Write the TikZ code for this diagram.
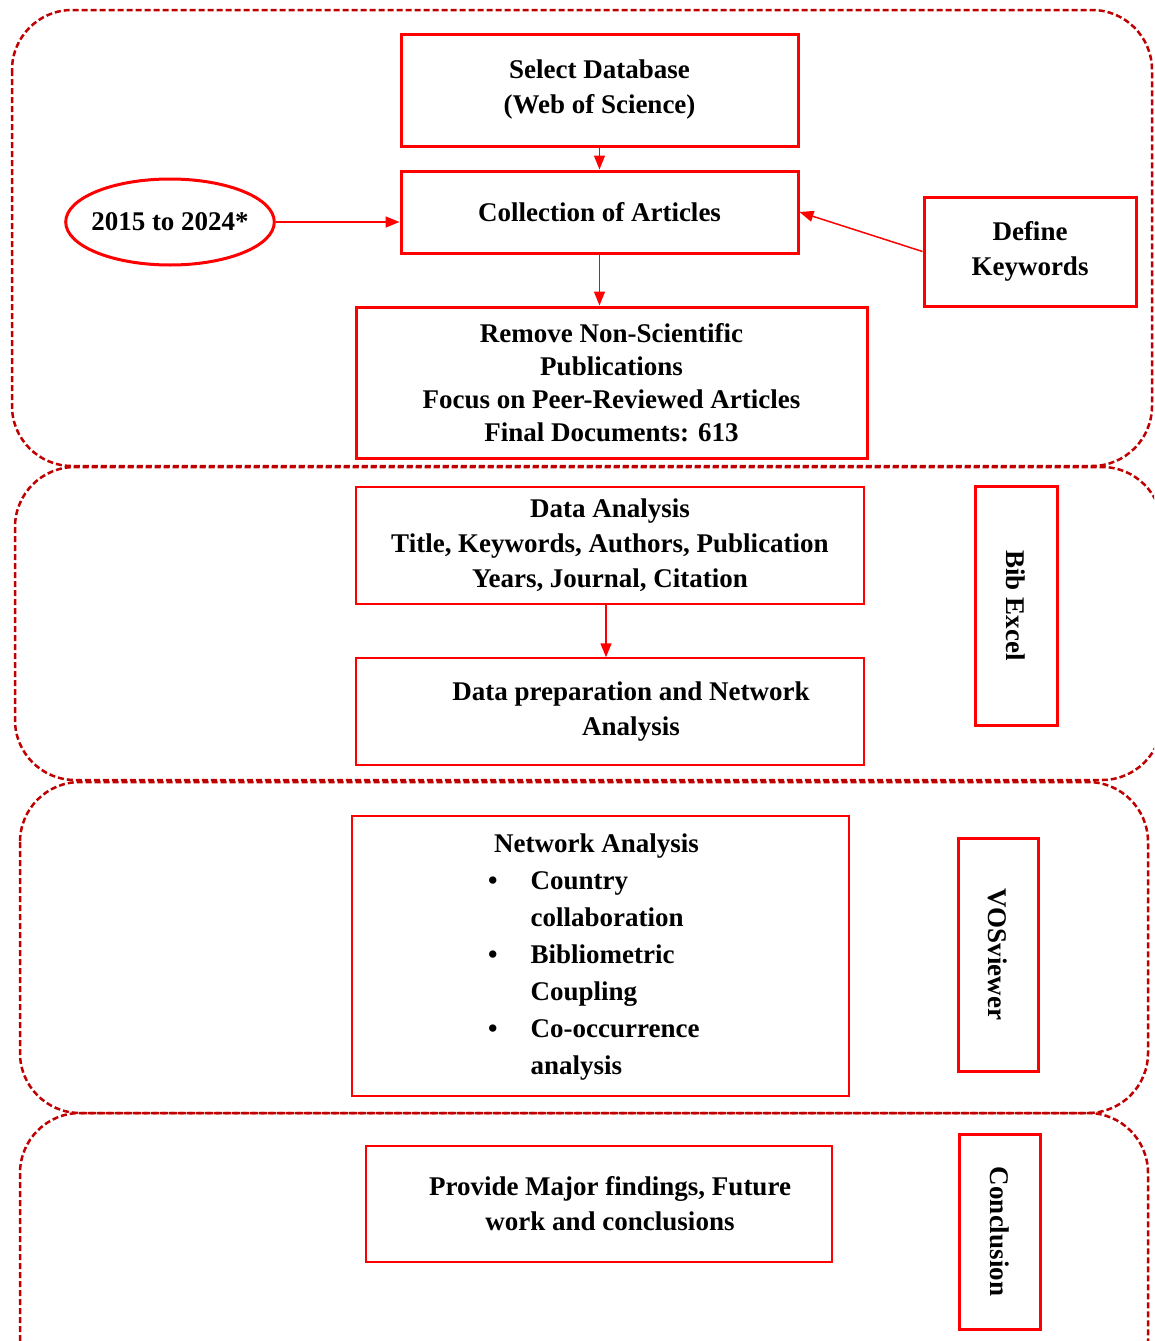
\documentclass[tikz,border=0pt]{standalone}
\usepackage{fontspec}
\setmainfont{Liberation Serif}
\usepackage{xcolor}
\usepackage{tikz}
\usetikzlibrary{arrows.meta,positioning,shapes.geometric,fit,calc}
\definecolor{boxred}{HTML}{FF0000}
\definecolor{dashred}{HTML}{C00000}

\begin{document}
\begin{tikzpicture}[
    x=1pt, y=-1pt,
    every node/.style={font=\bfseries\fontsize{27}{35}\selectfont, text=black},
    thickbox/.style={draw=boxred, line width=3pt, align=center, inner sep=2pt},
    thinbox/.style={draw=boxred, line width=1.5pt, align=center, inner sep=2pt},
    panel/.style={draw=dashred, line width=2.5pt, dash pattern=on 6pt off 3pt, rounded corners=60pt},
    arrow/.style={-{Triangle[length=14pt, width=11pt]}, line width=1.5pt, draw=boxred}
]
\useasboundingbox (0,0) rectangle (1154,1341);
\clip (0,0) rectangle (1154,1341);

% dashed phase panels
\draw[panel] (12,10) rectangle (1152,466);
\draw[panel] (15,467) rectangle (1162,780);
\draw[panel] (20,782) rectangle (1148,1113);
\draw[panel] (20,1113) rectangle (1148,1400);

% search and selection
\node[thickbox, minimum width=397, minimum height=112] (sel) at (599.5,90) {Select Database\\(Web of Science)};
\node[thickbox, minimum width=397, minimum height=82] (coll) at (599.5,212) {Collection of Articles};
\node[thickbox, ellipse, inner xsep=-5pt, minimum width=206, minimum height=86] (yrs) at (170,222) {2015 to 2024*};
\node[thickbox, minimum width=212, minimum height=109] (kw) at (1030,251.5) {Define\\Keywords};
\node[thickbox, minimum width=511, minimum height=151, font=\bfseries\fontsize{27}{33}\selectfont] (rem) at (611.5,382.5)
    {Remove Non-Scientific\\Publications\\Focus on Peer-Reviewed Articles\\Final Documents: 613};

% analysis
\node[thinbox, minimum width=508, minimum height=117] (da) at (610,545.5)
    {Data Analysis\\Title, Keywords, Authors, Publication\\Years, Journal, Citation};
\node[thinbox, minimum width=508, minimum height=107] (prep) at (610,711.5)
    {\hspace*{42pt}Data preparation and Network\\\hspace*{42pt}Analysis};
\node[thickbox, rotate=-90, minimum width=239, minimum height=82] (bib) at (1016,605.5) {Bib Excel};

% network
\node[thinbox, minimum width=497, minimum height=280, font=\bfseries\fontsize{27}{37}\selectfont] (net) at (600.5,956)
    {\begin{tabular}{@{}l@{\hspace{33pt}}l@{}}
     \multicolumn{2}{c}{Network Analysis}\\
     \textbullet & Country\\
                 & collaboration\\
     \textbullet & Bibliometric\\
                 & Coupling\\
     \textbullet & Co-occurrence\\
                 & analysis
     \end{tabular}\hspace*{8pt}};
\node[thickbox, rotate=-90, minimum width=233, minimum height=80] (vos) at (998,954.5) {VOSviewer};

% conclusion
\node[thinbox, line width=2pt, minimum width=466, minimum height=116] (find) at (599,1204)
    {\hspace*{22pt}Provide Major findings, Future\\\hspace*{22pt}work and conclusions};
\node[thickbox, rotate=-90, minimum width=195, minimum height=81] (conc) at (999.5,1231.5) {Conclusion};

\draw[arrow] (sel) -- (coll);
\draw[arrow] (yrs.east) -- (yrs.east -| coll.west);
\draw[arrow] (kw.west) -- (coll.east);
\draw[arrow] (coll.south) -- (coll.south |- rem.north);
\draw[arrow] (da.south -| 606,0) -- (prep.north -| 606,0);
\end{tikzpicture}
\end{document}
